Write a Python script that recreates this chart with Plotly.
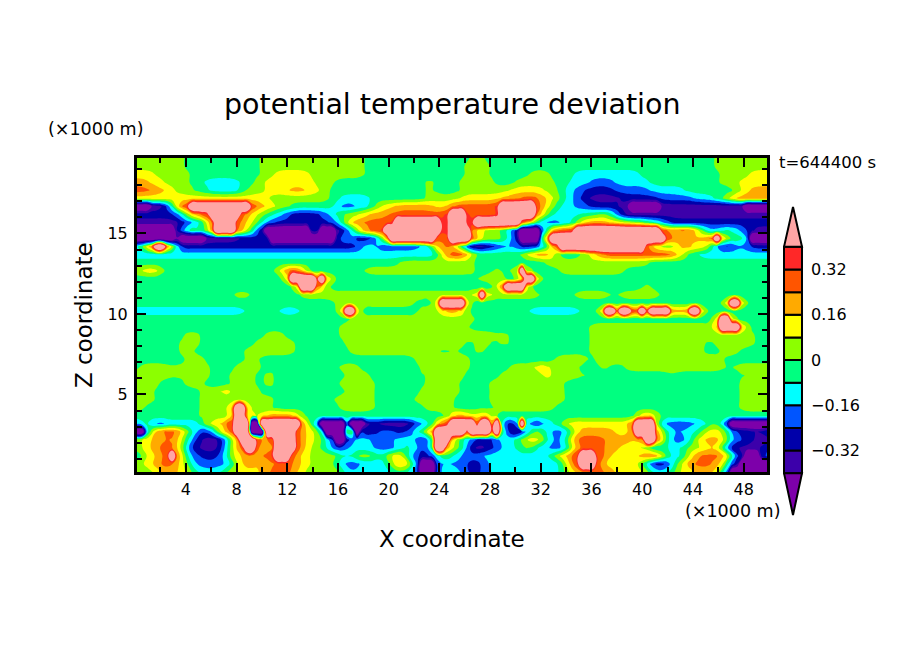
import plotly.graph_objects as go

# colour bands, lowest to highest
P, I, N, B, C, S, L, Y, O, R, E, K = range(12)
BAND_COLOURS = ["#7d00aa", "#3c00aa", "#0000aa", "#0055ff", "#00ffff", "#00ff80",
                "#8cff00", "#ffff00", "#ffaa00", "#ff5500", "#ff2828", "#ffa5a5"]
BAND_VALUES = [-0.55, -0.36, -0.28, -0.20, -0.12, -0.04, 0.04, 0.12, 0.20, 0.28, 0.36, 0.70]
LEVELS = [-0.40, -0.32, -0.24, -0.16, -0.08, 0.0, 0.08, 0.16, 0.24, 0.32, 0.40]
CB_TICKS = [-0.32, -0.16, 0.0, 0.16, 0.32]
CB_LABELS = ["\u22120.32", "\u22120.16", "0", "0.16", "0.32"]
X_TICKS = [4, 8, 12, 16, 20, 24, 28, 32, 36, 40, 44, 48]
Z_TICKS = [5, 10, 15]
N_COLS = 127
X_START, X_STEP = 0.15, 0.3944
Z_TOP, Z_STEP = 19.685, 0.5

# field, top row first: (band, column where the run ends)
ROWS = [
[(L,10),(S,25),(L,46),(S,67),(L,70),(S,116),(L,127)],
[(L,10),(S,25),(L,46),(S,66),(L,71),(S,116),(L,127)],
[(Y,4),(L,11),(S,25),(L,28),(Y,35),(L,46),(S,66),(L,71),(S,79),(L,83),(S,88),(C,101),(S,117),(L,123),(Y,127)],
[(O,3),(Y,6),(L,11),(S,14),(C,21),(S,24),(L,26),(Y,36),(L,40),(S,58),(L,60),(S,65),(L,72),(S,76),(L,84),(S,87),(C,91),(B,96),(C,103),(S,117),(L,121),(Y,127)],
[(R,3),(O,6),(Y,8),(L,12),(S,15),(C,21),(S,22),(L,26),(Y,31),(O,34),(Y,37),(L,39),(S,58),(L,60),(S,65),(L,75),(Y,82),(L,85),(S,86),(C,88),(B,90),(N,96),(B,103),(C,110),(S,120),(L,121),(Y,123),(O,127)],
[(Y,27),(L,39),(S,41),(C,47),(S,58),(L,65),(Y,73),(O,77),(R,81),(O,82),(Y,84),(L,85),(S,86),(C,88),(B,89),(N,91),(I,97),(N,105),(B,112),(C,116),(S,118),(L,119),(Y,120),(O,127)],
[(P,3),(I,6),(N,7),(C,8),(O,9),(R,11),(K,23),(R,24),(O,26),(Y,28),(L,31),(S,40),(C,41),(B,44),(C,47),(S,48),(L,49),(Y,52),(O,60),(Y,63),(R,73),(K,80),(R,81),(O,82),(Y,83),(L,84),(S,85),(C,88),(B,91),(N,97),(I,99),(P,105),(I,122),(P,127)],
[(N,8),(B,9),(C,10),(L,11),(O,13),(R,15),(K,21),(R,22),(O,23),(Y,25),(L,26),(S,28),(C,30),(B,31),(N,37),(B,39),(C,40),(S,42),(L,45),(Y,47),(O,51),(R,63),(K,66),(R,73),(K,80),(O,81),(Y,82),(L,83),(C,89),(S,93),(L,95),(S,96),(B,97),(N,98),(I,127)],
[(I,9),(N,10),(B,11),(C,14),(Y,15),(R,16),(K,20),(R,21),(O,22),(Y,24),(L,25),(C,26),(B,28),(N,39),(B,41),(C,42),(Y,43),(O,46),(R,52),(K,61),(R,63),(K,66),(R,68),(K,77),(R,78),(O,79),(L,80),(S,81),(C,82),(B,85),(C,88),(L,89),(Y,90),(O,95),(Y,98),(L,102),(S,104),(C,106),(B,107),(N,127)],
[(P,8),(I,9),(B,10),(C,11),(Y,12),(C,15),(R,16),(K,20),(O,21),(Y,23),(L,24),(N,26),(P,35),(B,37),(P,40),(I,41),(N,42),(B,43),(C,44),(L,45),(O,47),(R,50),(K,61),(R,63),(K,67),(O,68),(Y,70),(L,74),(C,76),(N,77),(P,81),(B,82),(C,83),(R,88),(K,105),(R,106),(O,109),(R,111),(O,112),(Y,113),(L,114),(C,115),(B,116),(C,118),(L,119),(C,121),(B,123),(I,127)],
[(P,8),(I,9),(P,14),(I,21),(N,24),(I,25),(B,27),(P,40),(I,41),(C,43),(B,44),(N,48),(C,50),(R,51),(K,60),(R,61),(Y,62),(R,63),(K,67),(R,68),(Y,69),(L,74),(C,76),(N,77),(P,81),(C,82),(R,83),(K,106),(R,107),(O,111),(Y,112),(O,114),(Y,115),(R,116),(K,117),(R,118),(C,120),(L,122),(C,123),(P,127)],
[(C,2),(Y,3),(R,4),(K,6),(R,7),(Y,8),(N,45),(C,49),(N,50),(B,57),(C,60),(R,63),(Y,64),(R,65),(C,66),(B,67),(I,70),(N,72),(B,74),(C,76),(B,77),(N,80),(B,81),(C,83),(R,85),(K,102),(R,103),(Y,105),(L,109),(R,111),(L,112),(Y,113),(O,114),(Y,115),(C,117),(N,120),(C,122),(B,123),(N,127)],
[(C,61),(Y,62),(R,67),(S,78),(Y,80),(O,84),(S,90),(Y,93),(R,101),(R,108),(Y,110),(S,113),(C,127)],
[(S,53),(L,68),(S,82),(L,103),(S,127)],
[(L,2),(Y,3),(O,4),(Y,5),(S,29),(Y,30),(R,34),(S,46),(L,68),(S,72),(Y,73),(S,77),(K,78),(S,85),(L,98),(S,127)],
[(S,31),(K,36),(R,37),(K,38),(L,40),(S,69),(Y,70),(S,72),(R,73),(S,77),(Y,78),(K,80),(S,127)],
[(S,33),(K,36),(O,38),(S,73),(R,74),(K,78),(S,102),(Y,103),(S,127)],
[(S,20),(L,23),(S,33),(L,69),(K,70),(L,81),(S,88),(L,95),(S,97),(L,105),(S,127)],
[(S,40),(L,56),(S,61),(K,66),(S,119),(K,121),(S,127)],
[(C,22),(S,29),(C,33),(S,42),(K,44),(S,58),(R,59),(S,61),(O,66),(S,79),(C,89),(S,94),(K,96),(S,97),(K,99),(R,101),(K,102),(Y,103),(K,107),(S,108),(R,110),(S,111),(K,113),(S,127)],
[(S,43),(L,68),(S,117),(K,119),(S,127)],
[(S,6),(L,7),(S,41),(L,67),(S,91),(L,117),(K,121),(L,123),(S,127)],
[(S,10),(L,13),(S,26),(L,30),(S,41),(L,72),(S,73),(L,75),(S,91),(L,124),(S,127)],
[(S,9),(L,13),(S,24),(L,32),(S,42),(L,66),(S,68),(L,71),(S,73),(L,75),(S,91),(L,114),(S,116),(L,124),(S,127)],
[(S,9),(L,12),(S,22),(L,32),(S,43),(L,61),(S,63),(L,65),(S,68),(L,70),(S,91),(L,114),(S,117),(L,121),(S,127)],
[(S,10),(L,14),(S,22),(L,25),(S,56),(L,67),(S,85),(O,86),(S,88),(R,89),(S,92),(L,118),(S,127)],
[(S,1),(L,7),(S,8),(L,10),(S,11),(L,15),(S,20),(L,25),(S,27),(L,28),(S,33),(L,34),(S,41),(L,45),(S,57),(L,67),(S,75),(L,81),(R,82),(L,89),(S,93),(L,95),(S,98),(L,118),(S,120),(L,127)],
[(L,7),(S,8),(L,10),(S,11),(L,15),(S,19),(L,24),(S,26),(L,28),(S,42),(L,47),(S,57),(L,58),(S,59),(L,66),(S,73),(L,82),(O,83),(L,89),(S,90),(L,91),(S,107),(L,108),(S,121),(L,122),(S,123),(L,127)],
[(L,5),(S,10),(L,14),(S,19),(L,24),(S,26),(L,28),(S,41),(L,48),(S,58),(L,65),(S,71),(L,86),(S,121),(L,127)],
[(L,4),(S,13),(L,18),(R,19),(S,20),(L,25),(S,27),(L,28),(S,42),(L,48),(S,57),(L,65),(S,71),(L,86),(S,121),(L,127)],
[(L,4),(S,13),(L,25),(S,26),(L,28),(S,40),(L,48),(S,56),(L,64),(S,71),(L,86),(S,121),(L,127)],
[(L,2),(S,13),(L,20),(K,22),(L,25),(S,26),(L,28),(S,41),(L,48),(S,58),(L,64),(S,69),(L,70),(S,72),(L,84),(S,110),(L,111),(S,121),(L,127)],
[(S,13),(L,20),(K,22),(L,25),(Y,26),(O,33),(S,63),(O,67),(L,69),(O,71),(L,72),(S,101),(O,104),(S,127)],
[(B,2),(R,3),(N,5),(C,14),(Y,18),(R,20),(K,23),(P,25),(K,33),(O,34),(L,36),(C,37),(P,42),(R,43),(P,46),(N,49),(I,56),(C,59),(B,60),(R,63),(K,68),(L,69),(K,71),(L,72),(K,73),(B,74),(I,77),(K,78),(N,81),(C,84),(S,86),(Y,100),(K,104),(C,106),(B,112),(C,115),(L,118),(I,119),(P,127)],
[(P,2),(C,3),(O,6),(R,9),(Y,10),(L,11),(C,13),(N,16),(Y,19),(R,20),(K,23),(P,26),(K,32),(R,33),(O,34),(Y,36),(L,38),(P,42),(R,44),(P,45),(N,49),(B,52),(N,55),(C,58),(Y,60),(K,66),(Y,67),(K,71),(Y,72),(K,73),(C,74),(N,75),(I,77),(N,78),(C,79),(L,82),(C,83),(B,86),(C,87),(L,88),(O,96),(Y,100),(K,104),(Y,106),(C,108),(N,109),(C,113),(L,114),(Y,118),(L,119),(N,122),(B,123),(I,126),(B,127)],
[(L,2),(Y,3),(O,6),(R,8),(O,9),(Y,10),(C,12),(N,13),(I,17),(N,18),(C,19),(Y,21),(K,24),(O,26),(R,27),(Y,28),(K,32),(R,33),(O,34),(Y,36),(L,38),(C,39),(B,40),(P,42),(B,44),(C,47),(B,52),(C,57),(N,59),(B,60),(K,63),(L,66),(B,69),(I,70),(N,72),(C,77),(L,78),(Y,82),(C,83),(B,86),(C,87),(O,88),(R,94),(O,100),(Y,102),(K,104),(O,106),(C,107),(B,111),(S,112),(Y,114),(O,117),(Y,119),(N,121),(B,123),(I,127)],
[(L,2),(Y,3),(O,5),(R,8),(O,9),(Y,10),(B,11),(N,13),(I,17),(N,18),(C,19),(Y,20),(O,22),(K,24),(O,26),(Y,28),(K,32),(R,33),(O,34),(Y,35),(L,38),(C,40),(N,42),(C,48),(B,52),(C,54),(L,55),(C,57),(N,60),(K,62),(Y,63),(L,66),(B,67),(I,70),(N,72),(B,73),(C,77),(L,80),(C,83),(B,86),(C,87),(Y,88),(R,94),(O,97),(Y,100),(L,102),(R,103),(B,105),(Y,106),(C,110),(L,113),(Y,115),(O,117),(Y,118),(N,121),(I,126),(B,127)],
[(C,1),(L,2),(Y,4),(O,6),(R,7),(K,8),(R,9),(Y,10),(C,11),(B,13),(N,17),(B,18),(C,19),(Y,21),(O,26),(R,28),(K,31),(R,32),(O,33),(Y,35),(L,41),(C,44),(L,48),(C,50),(L,52),(O,54),(C,56),(N,60),(C,61),(L,63),(C,66),(N,67),(B,70),(C,84),(Y,87),(R,89),(K,92),(R,94),(O,95),(Y,101),(O,103),(R,104),(O,105),(Y,106),(C,110),(L,111),(O,113),(R,115),(O,116),(R,118),(Y,119),(C,120),(N,122),(P,125),(B,127)],
[(L,2),(Y,4),(O,5),(R,8),(O,9),(Y,10),(L,11),(C,12),(B,18),(C,20),(Y,21),(O,25),(Y,27),(R,32),(O,33),(Y,35),(L,41),(B,45),(C,51),(L,52),(O,55),(C,57),(P,60),(C,63),(B,65),(C,66),(N,70),(C,86),(O,88),(R,89),(K,92),(R,93),(O,94),(Y,102),(C,103),(N,107),(C,108),(L,110),(O,112),(R,115),(O,117),(R,118),(C,119),(N,121),(P,127)],
[(L,4),(Y,5),(O,9),(Y,10),(L,12),(C,18),(L,20),(Y,25),(O,27),(R,32),(Y,34),(L,42),(B,44),(C,52),(L,54),(C,57),(P,60),(C,66),(N,70),(C,86),(Y,88),(O,90),(R,94),(O,96),(Y,103),(B,104),(C,108),(Y,112),(O,117),(C,119),(P,127)],
]


def decode(row):
    out = []
    for band, end in row:
        out.extend([BAND_VALUES[band]] * max(0, end - len(out)))
    out = out[:N_COLS] + [out[-1]] * (N_COLS - len(out))
    # soften the run edges along the row, keeping the open-ended extremes
    kernel = [1, 2, 3, 2, 1]
    soft = []
    for i, v in enumerate(out):
        if abs(v) >= 0.44:
            soft.append(v)
            continue
        tot = 0.0
        for k, w in enumerate(kernel):
            nb = out[min(N_COLS - 1, max(0, i + k - 2))]
            tot += w * min(0.44, max(-0.44, nb))
        soft.append(tot / 9)
    return soft


z_grid = [decode(r) for r in reversed(ROWS)]
x_grid = [X_START + X_STEP * i for i in range(N_COLS)]
y_grid = [Z_TOP - Z_STEP * (len(ROWS) - 1 - j) for j in range(len(ROWS))]

W, H = 904, 654
OFF_X, OFF_Y = -8, -8


def px(x):
    return (x + OFF_X) / W


def py(y):
    return 1 - (y + OFF_Y) / H


colourscale = [[i / 11, c] for i, c in enumerate(BAND_COLOURS)]
fig = go.Figure()
fig.add_trace(go.Contour(
    x=x_grid, y=y_grid, z=z_grid, colorscale=colourscale, showscale=False,
    contours=dict(start=LEVELS[0], end=LEVELS[-1], size=0.08, coloring="fill", showlines=False),
    line=dict(width=0, smoothing=1.3), hoverinfo="skip"))

# colour bar: ten closed bands and two pointed ends
for k in range(len(LEVELS) - 1):
    fig.add_trace(go.Bar(x=[0.5], y=[LEVELS[k + 1] - LEVELS[k]], base=[LEVELS[k]], width=1,
                         marker=dict(color=BAND_COLOURS[k + 1], line=dict(color="black", width=2)),
                         xaxis="x2", yaxis="y2", showlegend=False, hoverinfo="skip"))
CB_TOP, CB_BOTTOM = 0.541, -0.548
fig.add_trace(go.Scatter(x=[0, 0.5, 1, 0], y=[LEVELS[-1], CB_TOP, LEVELS[-1], LEVELS[-1]], mode="lines",
                         fill="toself", fillcolor=BAND_COLOURS[-1], line=dict(color="black", width=2),
                         xaxis="x2", yaxis="y2", showlegend=False, hoverinfo="skip"))
fig.add_trace(go.Scatter(x=[0, 0.5, 1, 0], y=[LEVELS[0], CB_BOTTOM, LEVELS[0], LEVELS[0]], mode="lines",
                         fill="toself", fillcolor=BAND_COLOURS[0], line=dict(color="black", width=2),
                         xaxis="x2", yaxis="y2", showlegend=False, hoverinfo="skip"))

FONT = "DejaVu Sans"
fig.update_layout(
    width=W, height=H, margin=dict(l=0, r=0, t=0, b=0), paper_bgcolor="white", plot_bgcolor="white",
    barmode="overlay", showlegend=False, font=dict(family=FONT, color="black"),
    xaxis=dict(domain=[px(137), px(767)], range=[x_grid[0], x_grid[-1]], tickvals=X_TICKS,
               ticks="inside", ticklen=9, tickwidth=2, tickcolor="black", mirror="ticks",
               showline=True, linecolor="black", linewidth=3, showgrid=False, zeroline=False,
               tickfont=dict(size=16), ticklabelstandoff=1,
               minor=dict(dtick=2, tick0=0, ticks="inside", ticklen=5, tickwidth=2, tickcolor="black")),
    yaxis=dict(domain=[py(472), py(158)], range=[y_grid[0], y_grid[-1]], tickvals=Z_TICKS,
               ticks="inside", ticklen=9, tickwidth=2, tickcolor="black", mirror="ticks",
               showline=True, linecolor="black", linewidth=3, showgrid=False, zeroline=False,
               tickfont=dict(size=16), ticklabelstandoff=3,
               minor=dict(dtick=1, tick0=0, ticks="inside", ticklen=5, tickwidth=2, tickcolor="black")),
    xaxis2=dict(domain=[px(782), px(804)], range=[-0.111, 1.111], visible=False, anchor="y2"),
    yaxis2=dict(domain=[py(519), py(203)], range=[CB_BOTTOM - 0.0141, CB_TOP + 0.0141], anchor="x2", side="right",
                tickvals=CB_TICKS, ticktext=CB_LABELS, ticks="", showgrid=False, zeroline=False, showline=False,
                tickfont=dict(size=16), ticklabelstandoff=6),
)


def label(text, x, y, size, anchor="center", angle=0):
    fig.add_annotation(text=text, x=px(x), y=py(y), xref="paper", yref="paper", showarrow=False,
                       xanchor=anchor, yanchor="middle", textangle=angle,
                       font=dict(family=FONT, size=size, color="black"))


label("potential temperature deviation", 452, 104, 28.5)
label("(\u00d71000 m)", 95, 129, 17.5)
label("(\u00d71000 m)", 732, 511, 17.5)
label("t=644400 s", 827, 163, 16.5)
label("X coordinate", 452, 539, 23)
label("Z coordinate", 84, 315, 23, angle=-90)

fig.write_html("out.html")
